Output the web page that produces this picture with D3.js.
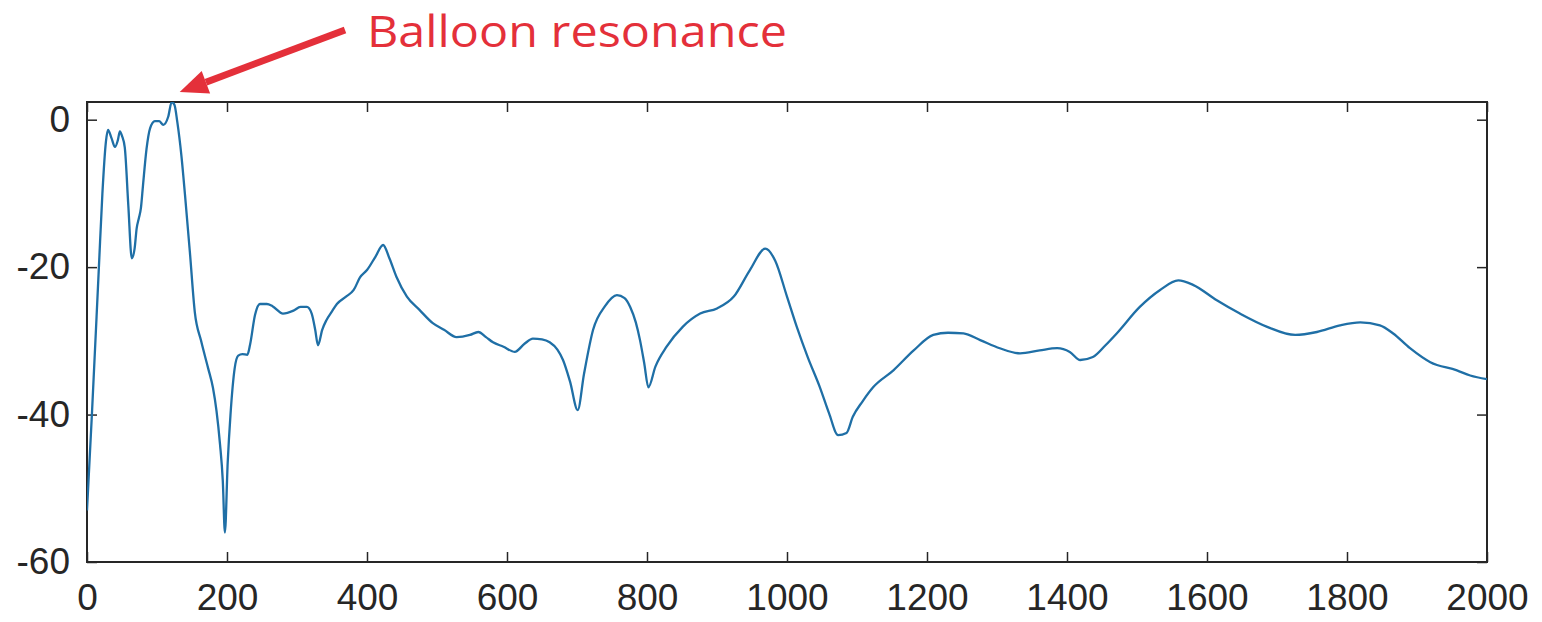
<!DOCTYPE html>
<html>
<head>
<meta charset="utf-8">
<script src="https://cdn.jsdelivr.net/npm/d3@7"></script>
<style>
  body { margin: 0; background: #fff; }
  svg { display: block; }
</style>
</head>
<body>
<svg id="chart" width="1542" height="622"></svg>
<script>
// frequency (Hz) and response level (dB)
var freq = [0, 7, 17, 22, 27, 30, 35, 40, 44, 47, 50, 54, 59, 64, 68, 71, 74, 77, 80, 85,
  90, 97, 103, 109, 116, 121, 125, 129, 135, 140, 147, 154, 163, 173, 180, 185, 190, 194, 197, 201,
  205, 211, 216, 222, 229, 233, 240, 247, 257, 265, 280, 295, 305, 314, 321, 326, 330, 336, 342, 350,
  357, 370, 381, 390, 400, 412, 423, 432, 442, 457, 475, 494, 510, 528, 547, 559, 570, 580, 595, 611,
  625, 637, 650, 661, 672, 680, 690, 701, 710, 723, 740, 757, 768, 776, 784, 790, 796, 802, 812, 828,
  851, 876, 900, 924, 947, 969, 983, 1000, 1014, 1030, 1047, 1060, 1073, 1085, 1094, 1108, 1123, 1152, 1181, 1209,
  1230, 1252, 1276, 1304, 1333, 1361, 1386, 1404, 1419, 1437, 1455, 1471, 1504, 1533, 1559, 1580, 1614, 1647, 1686, 1726,
  1757, 1790, 1819, 1847, 1866, 1890, 1919, 1957, 1976, 2000];
var level = [-53, -40, -20, -10, -3, -1.4, -2.5, -3.7, -2.8, -1.6, -2.2, -3.8, -11.6, -18.8, -17.5, -14.7, -13.4, -12, -8.9, -4,
  -1.2, -0.2, -0.2, -0.7, 0.4, 2.4, 2.0, -0.3, -5, -10.2, -18, -26.1, -30, -33.7, -36.4, -39.5, -44, -49, -56, -46.5,
  -40, -33.7, -32, -31.8, -31.9, -30.5, -26.5, -25, -25, -25.3, -26.3, -25.9, -25.4, -25.4, -26.3, -28.5, -30.6, -28.5, -27.2, -26,
  -25, -24, -23.1, -21.4, -20.4, -18.6, -17.0, -18.8, -21.3, -24, -25.8, -27.6, -28.5, -29.5, -29.2, -28.8, -29.5, -30.2, -30.8, -31.5,
  -30.4, -29.7, -29.8, -30.2, -31.2, -32.6, -35.5, -39.4, -34.5, -28.5, -25.3, -23.8, -24.2, -25.4, -27.5, -29.9, -33, -36.3, -33.5, -30.8,
  -28.1, -26.3, -25.6, -24, -20.4, -17.5, -19.1, -24, -28.1, -32.3, -36.3, -39.8, -42.8, -42.5, -40.3, -38.2, -36.3, -34, -31.3, -29.2,
  -28.9, -29, -29.9, -31, -31.7, -31.3, -31, -31.5, -32.6, -32.2, -30.6, -29, -25.4, -23.1, -21.8, -22.4, -24.5, -26.3, -28.1, -29.2,
  -28.8, -27.9, -27.5, -27.9, -29, -31, -32.9, -34, -34.7, -35.2];
var xTicks = [0, 200, 400, 600, 800, 1000, 1200, 1400, 1600, 1800, 2000];
var yTicks = [0, -20, -40, -60];
var note = "Balloon resonance";
var notePeak = 121; // Hz, where the arrow points

(function() {
  var svg = d3.select("#chart");
  var pL = 87, pR = 1487, pT = 102, pB = 562;

  var x = d3.scaleLinear().domain([0, 2000]).range([pL, pR]);
  var y = d3.scaleLinear().domain([-60, 2.4]).range([pB, pT]);

  var axisColor = "#262626";
  var tickLen = 10;
  var plain = function(d) { return String(d); }; // keep the ascii hyphen like the original

  svg.append("defs").append("clipPath").attr("id", "plotclip")
    .append("rect").attr("x", pL).attr("y", pT)
    .attr("width", pR - pL).attr("height", pB - pT);

  // axes: bottom and left with labels, top and right as mirrored ticks
  function styleAxis(g) {
    g.select(".domain").remove();
    g.selectAll(".tick line").attr("stroke", axisColor).attr("stroke-width", 1.5);
    g.selectAll(".tick text")
      .attr("fill", axisColor)
      .style("font-family", "'Liberation Sans', Arial, sans-serif")
      .style("font-size", "37px");
  }

  svg.append("g")
    .attr("transform", "translate(0," + pB + ")")
    .call(d3.axisBottom(x).tickValues(xTicks).tickSize(-tickLen).tickPadding(22).tickFormat(plain))
    .call(styleAxis);

  svg.append("g")
    .attr("transform", "translate(" + pL + ",0)")
    .call(d3.axisLeft(y).tickValues(yTicks).tickSize(-tickLen).tickPadding(17).tickFormat(plain))
    .call(styleAxis);

  svg.append("g")
    .attr("transform", "translate(0," + pT + ")")
    .call(d3.axisTop(x).tickValues(xTicks).tickSize(-tickLen).tickFormat(""))
    .call(styleAxis);

  svg.append("g")
    .attr("transform", "translate(" + pR + ",0)")
    .call(d3.axisRight(y).tickValues(yTicks).tickSize(-tickLen).tickFormat(""))
    .call(styleAxis);

  svg.append("rect")
    .attr("x", pL).attr("y", pT)
    .attr("width", pR - pL).attr("height", pB - pT)
    .attr("fill", "none").attr("stroke", axisColor).attr("stroke-width", 2);

  var line = d3.line()
    .x(function(d, i) { return x(freq[i]); })
    .y(function(d) { return y(d); })
    .curve(d3.curveMonotoneX);

  svg.append("path")
    .datum(level)
    .attr("clip-path", "url(#plotclip)")
    .attr("fill", "none")
    .attr("stroke", "#1f6fa6")
    .attr("stroke-width", 2.3)
    .attr("stroke-linejoin", "round")
    .attr("d", line);

  // annotation arrow + label
  var red = "#e4303a";
  var tipX = x(notePeak) + 8, tipY = y(2.4) - 10;
  var tailX = 345, tailY = 30;
  var ang = Math.atan2(tailY - tipY, tailX - tipX);
  var headLen = 28, headW = 12;
  var baseX = tipX + headLen * Math.cos(ang), baseY = tipY + headLen * Math.sin(ang);

  svg.append("line")
    .attr("x1", tailX).attr("y1", tailY)
    .attr("x2", baseX).attr("y2", baseY)
    .attr("stroke", red).attr("stroke-width", 7);

  svg.append("path")
    .attr("fill", red)
    .attr("d", "M" + tipX + "," + tipY +
      "L" + (baseX + headW * Math.sin(ang)) + "," + (baseY - headW * Math.cos(ang)) +
      "L" + (baseX - headW * Math.sin(ang)) + "," + (baseY + headW * Math.cos(ang)) + "Z");

  svg.append("text")
    .attr("x", 367).attr("y", 47)
    .attr("fill", red)
    .attr("textLength", 420)
    .attr("lengthAdjust", "spacingAndGlyphs")
    .style("font-family", "'Open Sans', sans-serif")
    .style("font-size", "44px")
    .text(note);
})();
</script>
</body>
</html>
